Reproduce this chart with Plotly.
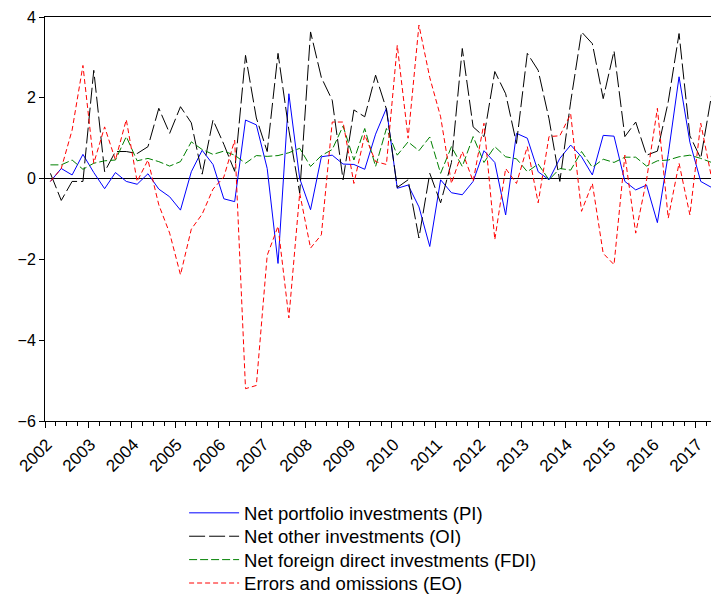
import plotly.graph_objects as go

start_year = 2002
years = list(range(2002, 2018))

pi = [-0.07, 0.25, 0.09, 0.6, 0.15, -0.25, 0.15, -0.07, -0.14, 0.12,
      -0.26, -0.45, -0.78, 0.17, 0.7, 0.35, -0.5, -0.57, 1.45, 1.33,
      0.25, -2.1, 2.1, 0.0, -0.77, 0.54, 0.58, 0.36, 0.35, 0.23,
      1.1, 1.74, -0.24, -0.16, -0.7, -1.68, -0.03, -0.35, -0.4, -0.07,
      0.69, 0.4, -0.9, 1.12, 1.0, 0.17, -0.03, 0.5, 0.83, 0.54,
      0.09, 1.07, 1.05, -0.07, -0.28, -0.16, -1.09, 0.6, 2.52, 0.9,
      -0.07, -0.22]

oi = [0.13, -0.54, -0.07, -0.07, 2.68, 0.17, 0.67, 0.67, 0.62, 0.79,
      1.74, 1.12, 1.78, 1.38, 0.11, 1.45, 0.85, 0.18, 3.05, 1.5,
      0.67, 3.1, 1.2, -0.36, 3.63, 2.5, 1.94, -0.03, 1.7, 1.53,
      2.56, 1.72, -0.22, -0.03, -1.47, 0.13, -0.6, 0.4, 3.22, 1.28,
      1.04, 2.65, 2.1, 0.87, 3.1, 2.68, 1.48, -0.07, 1.9, 3.63,
      3.34, 1.98, 3.16, 1.04, 1.4, 0.58, 0.68, 1.9, 3.59, 1.06,
      0.5, 2.07]

fdi = [0.34, 0.34, 0.46, 0.23, 0.38, 0.44, 0.46, 1.04, 0.44, 0.5,
       0.42, 0.31, 0.42, 0.91, 0.72, 0.6, 0.68, 0.58, 0.38, 0.57,
       0.55, 0.57, 0.64, 0.75, 0.3, 0.57, 0.72, 1.3, 0.46, 1.24,
       0.3, 1.24, 0.58, 0.91, 0.69, 1.03, 0.13, 0.79, 0.3, 1.04,
       0.4, 0.79, 0.54, 0.49, 0.17, 0.36, -0.03, 0.25, 0.21, 0.67,
       0.28, 0.48, 0.4, 0.53, 0.53, 0.31, 0.44, 0.46, 0.54, 0.58,
       0.5, 0.4]

eo = [-0.07, 0.25, 1.2, 2.8, 0.38, 1.28, 0.46, 1.46, -0.07, 0.46,
      -0.65, -1.35, -2.38, -1.25, -0.88, -0.26, 0.04, 0.95, -5.2, -5.12,
      -1.9, -1.18, -3.45, -0.36, -1.72, -1.39, 1.4, 1.4, -0.12, 1.08,
      0.42, 0.35, 3.3, 1.0, 3.8, 2.5, 1.53, -0.12, 0.67, -0.07,
      1.37, -1.51, 0.25, -0.12, 0.79, -0.6, 1.04, 1.06, 1.6, -0.81,
      -0.12, -1.85, -2.13, 0.58, -1.35, -0.03, 1.74, -0.98, 0.38, -0.9,
      1.37, 0.02]

# quarterly periods, plotted at the middle of each quarter
x = [start_year + (i + 0.5) / 4 for i in range(len(pi))]

series = [
    ("Net portfolio investments (PI)", pi, "#0000FF", "solid"),
    ("Net other investments (OI)", oi, "#000000", "16px,4px"),
    ("Net foreign direct investments (FDI)", fdi, "#008000", "8px,3px"),
    ("Errors and omissions (EO)", eo, "#FF0000", "5px,3px"),
]

fig = go.Figure()
legend_names = ["legend", "legend2", "legend3", "legend4"]
for k, (name, vals, color, dash) in enumerate(series):
    fig.add_trace(go.Scatter(x=x, y=vals, mode="lines", name=name,
                             legend=legend_names[k],
                             line=dict(color=color, width=1, dash=dash)))

# one legend box per entry so that the row spacing matches the original
legend_rows = [-0.2285, -0.2864, -0.3443, -0.4022]
leg_common = dict(x=0.207, xanchor="left", yanchor="middle",
                  font=dict(size=18.5, family="Liberation Sans, Arial, sans-serif"),
                  bgcolor="rgba(0,0,0,0)", itemwidth=50, borderwidth=0)
layout_legends = {}
for ln, yy in zip(legend_names, legend_rows):
    layout_legends[ln] = dict(y=yy, **leg_common)

# the page body adds an 8px offset, so the figure is 8px smaller on each side
fig.update_layout(
    width=711, height=591,
    margin=dict(l=37, r=2, t=9, b=178, autoexpand=False),
    paper_bgcolor="white", plot_bgcolor="white",
    font=dict(family="Liberation Sans, Arial, sans-serif", size=16, color="black"),
    showlegend=True,
    **layout_legends,
)

fig.update_xaxes(
    range=[2002, 2017.5], tickvals=years, ticktext=[str(y) for y in years],
    tickangle=-45, ticks="outside", ticklen=6, tickcolor="black",
    tickfont=dict(size=17), ticklabelshift=2,
    minor=dict(dtick=0.25, tick0=2002, ticks="outside", ticklen=4, tickcolor="black"),
    showline=True, linecolor="black", linewidth=1, mirror=True,
    showgrid=False, zeroline=False, automargin=False,
)
fig.update_yaxes(
    range=[-6, 4], dtick=2, tick0=0, ticks="outside", ticklen=5, tickcolor="black",
    tickfont=dict(size=16),
    showline=True, linecolor="black", linewidth=1, mirror=True,
    showgrid=False, zeroline=True, zerolinecolor="black", zerolinewidth=1,
    automargin=False,
)

fig.write_html("out.html")
